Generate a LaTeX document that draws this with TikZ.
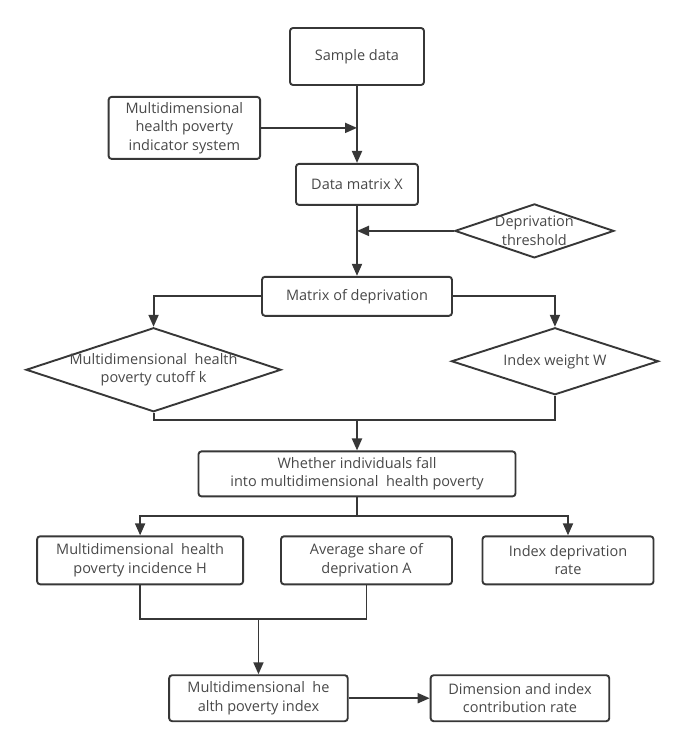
\documentclass[tikz,border=0pt]{standalone}
\usepackage{fontspec}
\setmainfont{Open Sans}
\usetikzlibrary{positioning,shapes.geometric,calc,arrows.meta}
\definecolor{flowline}{RGB}{55,55,55}
\definecolor{flowtext}{RGB}{72,72,72}

\tikzset{
  box/.style={draw=flowline, rectangle, rounded corners=3pt, line width=1.9pt, align=center, text=flowtext, inner sep=2pt},
  decision/.style={draw=flowline, diamond, line width=1.9pt, inner sep=0pt},
  inlabel/.style={text=flowtext, align=center},
  flow/.style={draw=flowline, line width=1.9pt},
  arrow/.style={flow, -{Triangle[length=12pt,width=10pt]}},
}

\begin{document}
\begin{tikzpicture}[font=\fontsize{14.5}{18.5}\selectfont]
  \useasboundingbox (0,0) rectangle (685pt,-741pt);

  % main column
  \node[box, minimum width=134pt, minimum height=57pt] (sample) at (357pt,-56.5pt) {Sample data};
  \node[box, minimum width=151.5pt, minimum height=62pt, below left=10pt and 28pt of sample] (indicator) {Multidimensional\\health poverty\\indicator system};
  \node[box, minimum width=122pt, minimum height=41pt, below=77pt of sample] (data) {Data matrix X};
  \node[decision, minimum width=159pt, minimum height=54pt, right=35pt of data.east, yshift=-46.5pt,
        label={[inlabel]center:Deprivation\\threshold}] (threshold) {};
  \node[box, minimum width=190pt, minimum height=39pt, below=70pt of data] (matrix) {Matrix of deprivation};

  % cutoff and weights
  \node[decision, minimum width=255pt, minimum height=84pt, below=30.5pt of matrix.west, xshift=-107.5pt,
        label={[inlabel]center:Multidimensional\ \ health\\poverty cutoff k}] (cutoff) {};
  \node[decision, minimum width=207pt, minimum height=67pt, below=30.5pt of matrix.east, xshift=102pt,
        label={[inlabel]center:Index weight W}] (weight) {};
  \node[box, minimum width=317pt, minimum height=45pt, below=133.7pt of matrix] (whether) {Whether individuals fall\\into multidimensional\ \ health poverty};

  % results
  \node[box, minimum width=171pt, minimum height=48pt, below=38pt of whether, xshift=9.5pt] (share) {Average share of\\deprivation A};
  \node[box, minimum width=206pt, minimum height=48pt, left=36pt of share] (incidence) {Multidimensional\ \ health\\poverty incidence H};
  \node[box, minimum width=171pt, minimum height=48pt, right=28.6pt of share] (rate) {Index deprivation\\rate};
  \node[box, minimum width=178.6pt, minimum height=46pt, below=89pt of share.south west, xshift=-21.6pt] (index) {Multidimensional\ \ he\\alth poverty index};
  \node[box, minimum width=178.6pt, minimum height=46pt, right=81pt of index] (contrib) {Dimension and index\\contribution rate};

  \coordinate (merge) at ($(whether.north)+(0,30.5pt)$);
  \coordinate (split) at ($(whether.south)+(0,-19pt)$);
  \coordinate (merge2) at ($(index.north)+(0,55pt)$);

  % connectors
  \draw[arrow] (sample) -- (data);
  \draw[arrow] (indicator) -- (indicator -| sample);
  \draw[arrow] (data) -- (matrix);
  \draw[arrow] (threshold) -- (threshold -| data);
  \draw[arrow] (matrix) -| (cutoff);
  \draw[arrow] (matrix) -| (weight);
  \draw[flow] (cutoff.south) |- (merge) -| (weight.south);
  \draw[arrow] (merge) -- (whether);
  \draw[flow] (whether) -- (split);
  \draw[arrow] (split) -| (incidence);
  \draw[arrow] (split) -| (rate);
  \draw[flow] (incidence.south) |- (merge2) -| (share.south);
  \draw[arrow] (merge2) -- (index);
  \draw[arrow] (index) -- (contrib);
\end{tikzpicture}
\end{document}
